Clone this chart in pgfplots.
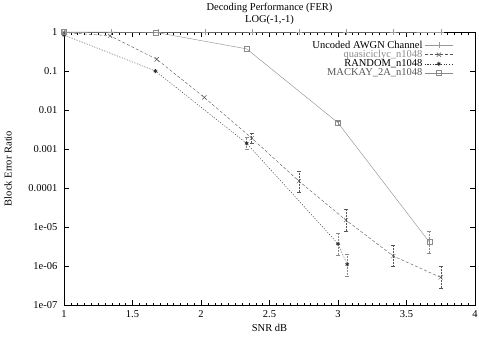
\documentclass[border=0pt]{standalone}
\usepackage{fontspec}
\setmainfont{Liberation Serif}
\usepackage{pgfplots}
\pgfplotsset{compat=1.18}
\definecolor{unc}{HTML}{999999}
\definecolor{qc}{HTML}{555555}
\definecolor{rnd}{HTML}{333333}
\definecolor{mk}{HTML}{8A8A8A}

\begin{document}
\fontsize{10.5}{12}\selectfont
\begin{tikzpicture}
\useasboundingbox (-64pt,-33pt) rectangle (415pt,305pt);
\begin{semilogyaxis}[
  scale only axis,
  width=411pt, height=273pt,
  xmin=1, xmax=4, ymin=1e-7, ymax=1,
  log basis y=10,
  xtick={1,1.5,2,2.5,3,3.5,4},
  xticklabels={1,1.5,2,2.5,3,3.5,4},
  minor x tick num=9,
  ytick={1,0.1,0.01,0.001,0.0001,1e-5,1e-6,1e-7},
  yticklabels={1,0.1,0.01,0.001,0.0001,1e-05,1e-06,1e-07},
  tick style={black, thin},
  major tick length=5pt, minor tick length=2.5pt,
  tick label style={font=\fontsize{10.5}{12}\selectfont},
  xticklabel style={yshift=-2pt},
  yticklabel style={xshift=-3pt},
  axis line style={black, thin},
  xlabel={SNR dB},
  ylabel={Block Error Ratio},
  xlabel style={at={(axis description cs:0.5,-0.084)}, anchor=center},
  ylabel style={at={(axis description cs:-0.136,0.5)}, anchor=center, rotate=0},
  title={Decoding Performance (FER)\\LOG(-1,-1)},
  title style={at={(axis description cs:0.5,1.046)}, anchor=center, align=center,
    font=\fontsize{10.5}{12}\selectfont},
  legend style={draw=none, fill=none, at={(0.955,0.983)}, anchor=north east,
    row sep=-3.5pt, font=\fontsize{10.5}{11.5}\selectfont},
  legend cell align=right,
  legend plot pos=right,
  legend image code/.code={%
    \draw[mark repeat=2, mark phase=2] plot coordinates {(0cm,0cm) (0.5cm,0cm) (1cm,0cm)};},
  error bars/y dir=both,
  error bars/y explicit,
  error bars/error mark=-,
  error bars/error mark options={rotate=90, mark size=2pt},
  clip=false,
]
\addplot[unc, thin, mark=+, mark size=3pt, mark options={solid}] coordinates {
  (1,1) (1.343,1) (1.686,1) (2.029,1) (2.371,1) (2.714,1) (3.057,1) (3.4,1) (3.75,1)
};
\addlegendentry{Uncoded AWGN Channel}
\addplot[qc, thin, dash pattern=on 3pt off 2pt, mark=x, mark size=3pt, mark options={solid},
  error bars/error bar style={qc, dash pattern=on 2pt off 1pt}] coordinates {
  (1,0.97)
  (1.336,0.80)
  (1.677,0.20)
  (2.024,0.021)
  (2.37,1.9e-3) += (0,0.7e-3) -= (0,0.5e-3)
  (2.715,1.5e-4) += (0,1.2e-4) -= (0,0.7e-4)
  (3.058,1.5e-5) += (0,1.4e-5) -= (0,0.7e-5)
  (3.404,1.8e-6) += (0,1.6e-6) -= (0,0.84e-6)
  (3.75,5.1e-7) += (0,0.5e-6) -= (0,0.24e-6)
};
\addlegendentry[text=mk]{quasiciclyc\_n1048}
\addplot[rnd, thin, dash pattern=on 1.2pt off 1.5pt, mark=asterisk, mark size=2pt, mark options={solid, line width=0.8pt},
  error bars/error bar style={mk, dash pattern=on 2pt off 1pt}] coordinates {
  (1,0.84)
  (1.667,0.10)
  (2.333,1.4e-3) += (0,0.6e-3) -= (0,0.4e-3)
  (3.0,3.7e-6) += (0,3.3e-6) -= (0,1.8e-6)
  (3.067,1.1e-6) += (0,0.9e-6) -= (0,0.54e-6)
};
\addlegendentry{RANDOM\_n1048}
\addplot[mk, thin, mark=square, mark size=2.5pt, mark options={solid},
  error bars/error bar style={mk, dash pattern=on 2pt off 1pt}] coordinates {
  (1,1.0)
  (1.667,0.98)
  (2.333,0.37)
  (3.0,4.7e-3) += (0,0.6e-3) -= (0,0.6e-3)
  (3.667,4.1e-6) += (0,3.8e-6) -= (0,2.0e-6)
};
\addlegendentry[text=qc]{MACKAY\_2A\_n1048}
\end{semilogyaxis}
\end{tikzpicture}
\end{document}
